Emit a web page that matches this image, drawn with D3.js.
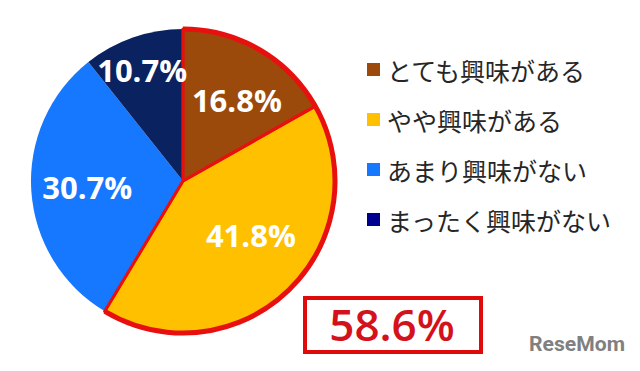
<!DOCTYPE html>
<html><head><meta charset="utf-8">
<script src="https://cdn.jsdelivr.net/npm/d3@7"></script>
<style>html,body{margin:0;padding:0;background:#fff;}svg{display:block;}</style>
</head><body>
<svg id="chart" width="640" height="371"></svg>
<script>
const categories = ["とても興味がある", "やや興味がある", "あまり興味がない", "まったく興味がない"];
const values = [16.8, 41.8, 30.7, 10.7];
const sliceColors = ["#9B4A0C", "#FFC000", "#1677FF", "#0B2260"];
const legendColors = ["#9B4A0C", "#FFC000", "#1677FF", "#00008F"];
const highlighted = [true, true, false, false];
const highlightLabel = "58.6%";
const watermark = "ReseMom";

const svg = d3.select("#chart");
const cx = 183, cy = 181, r = 152;
const g = svg.append("g").attr("transform", `translate(${cx},${cy})`);
const data = categories.map((c, i) => ({ c, v: values[i], col: sliceColors[i], hl: highlighted[i] }));
const pie = d3.pie().value(d => d.v).sort(null);
const arcs = pie(data);
const arc = d3.arc().innerRadius(0).outerRadius(r);

g.selectAll("path.slice").data(arcs).join("path")
  .attr("class", "slice")
  .attr("d", arc)
  .attr("fill", d => d.data.col);

// red outline for highlighted group
const hl = arcs.filter(d => d.data.hl);
const a0 = d3.min(hl, d => d.startAngle), a1 = d3.max(hl, d => d.endAngle);
g.selectAll("path.hl").data(hl).join("path")
  .attr("class", "hl").attr("d", arc)
  .attr("fill", "none").attr("stroke", "#E8100F").attr("stroke-width", 3).attr("stroke-linejoin", "round");
g.append("path").attr("d", d3.arc().innerRadius(0).outerRadius(r).startAngle(a0).endAngle(a1)())
  .attr("fill", "none").attr("stroke", "#E8100F").attr("stroke-width", 2.5).attr("stroke-linejoin", "round");
g.append("path").attr("d", d3.arc().innerRadius(r).outerRadius(r).startAngle(a0).endAngle(a1)())
  .attr("fill", "none").attr("stroke", "#E8100F").attr("stroke-width", 5);

// labels: [radius in px, angle offset in degrees]
const labelLayout = [[97, 3.5], [87, -7], [96, 0], [118, -1]];
const fmt = d3.format(".1f");
function lp(d, i) {
  const a = (d.startAngle + d.endAngle) / 2 + labelLayout[i][1] * Math.PI / 180;
  return [Math.sin(a) * labelLayout[i][0], -Math.cos(a) * labelLayout[i][0]];
}
g.selectAll("text.lab").data(arcs).join("text")
  .attr("class", "lab")
  .attr("x", (d, i) => lp(d, i)[0])
  .attr("y", (d, i) => lp(d, i)[1])
  .attr("text-anchor", "middle").attr("dominant-baseline", "central")
  .attr("font-family", "'Open Sans', 'DejaVu Sans', sans-serif").attr("font-weight", "bold")
  .attr("font-size", 31).attr("fill", "#fff")
  .text(d => fmt(d.data.v) + "%");

// legend
const lg = svg.append("g");
const ly = d3.scalePoint().domain(categories).range([70, 220]);
lg.selectAll("rect").data(categories).join("rect")
  .attr("x", 367).attr("y", d => ly(d) - 7).attr("width", 13).attr("height", 13)
  .attr("fill", (d, i) => legendColors[i]);
lg.selectAll("text").data(categories).join("text")
  .attr("x", 387).attr("y", d => ly(d))
  .attr("dominant-baseline", "central")
  .attr("font-family", "'Noto Sans CJK JP', sans-serif").attr("font-size", 25)
  .attr("fill", "#262626")
  .text(d => d);

// highlight box
svg.append("rect").attr("x", 305).attr("y", 298).attr("width", 176).attr("height", 54)
  .attr("fill", "#fff").attr("stroke", "#E00A0A").attr("stroke-width", 4);
svg.append("text").attr("x", 392).attr("y", 324)
  .attr("text-anchor", "middle").attr("dominant-baseline", "central")
  .attr("font-family", "'Open Sans', 'DejaVu Sans', sans-serif").attr("font-weight", 600)
  .attr("font-size", 44).attr("fill", "#D4121B")
  .text(highlightLabel);

// watermark
svg.append("text").attr("x", 577).attr("y", 351)
  .attr("text-anchor", "middle")
  .attr("font-family", "'Roboto', sans-serif").attr("font-weight", "bold")
  .attr("font-size", 21).attr("fill", "#808080").attr("textLength", 96)
  .attr("lengthAdjust", "spacingAndGlyphs")
  .text(watermark);
</script>
</body></html>
